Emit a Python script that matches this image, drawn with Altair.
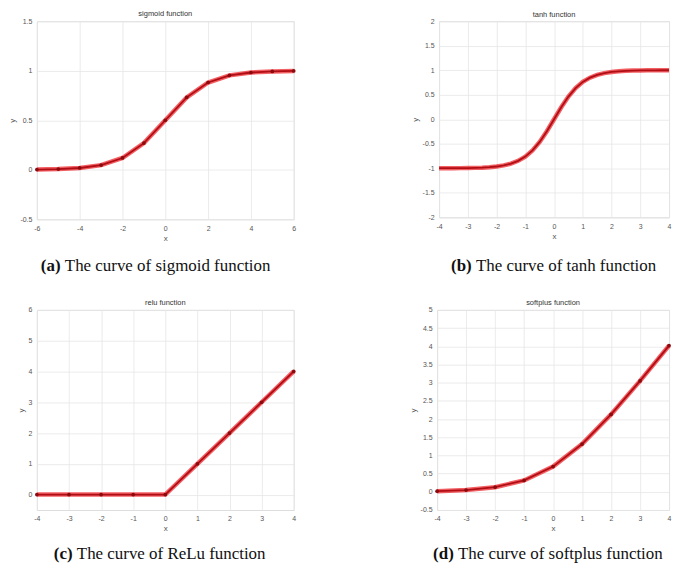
import altair as alt
import pandas as pd

# ---- data ----
sig_x = [-6, -5, -4, -3, -2, -1, 0, 1, 2, 3, 4, 5, 6]
sig_y = [0.0025, 0.0067, 0.018, 0.047, 0.119, 0.269, 0.5, 0.731, 0.881, 0.953, 0.982, 0.993, 0.9975]

tanh_x = [-4, -3.75, -3.5, -3.25, -3, -2.75, -2.5, -2.25, -2, -1.75, -1.5, -1.25, -1, -0.75, -0.5, -0.25,
          0, 0.25, 0.5, 0.75, 1, 1.25, 1.5, 1.75, 2, 2.25, 2.5, 2.75, 3, 3.25, 3.5, 3.75, 4]
tanh_y = [-0.999, -0.999, -0.998, -0.997, -0.995, -0.992, -0.987, -0.978, -0.964, -0.941, -0.905, -0.848,
          -0.762, -0.635, -0.462, -0.245, 0.0, 0.245, 0.462, 0.635, 0.762, 0.848, 0.905, 0.941, 0.964,
          0.978, 0.987, 0.992, 0.995, 0.997, 0.998, 0.999, 0.999]

relu_x = [-4, -3, -2, -1, 0, 1, 2, 3, 4]
relu_y = [0, 0, 0, 0, 0, 1, 2, 3, 4]

soft_x = [-4, -3, -2, -1, 0, 1, 2, 3, 4]
soft_y = [0.018, 0.049, 0.127, 0.313, 0.693, 1.313, 2.127, 3.049, 4.018]

titles = ["sigmoid function", "tanh function", "relu function", "softplus function"]
cap_bold = ["(a)", "(b)", "(c)", "(d)"]
cap_rest = ["The curve of sigmoid function", "The curve of tanh function",
            "The curve of ReLu function", "The curve of softplus function"]

sig_xticks = [-6, -4, -2, 0, 2, 4, 6]
sig_yticks = [-0.5, 0, 0.5, 1, 1.5]
tanh_xticks = [-4, -3, -2, -1, 0, 1, 2, 3, 4]
tanh_yticks = [-2, -1.5, -1, -0.5, 0, 0.5, 1, 1.5, 2]
relu_yticks = [0, 1, 2, 3, 4, 5, 6]
soft_yticks = [-0.5, 0, 0.5, 1, 1.5, 2, 2.5, 3, 3.5, 4, 4.5, 5]

LABEL_FONT = "Liberation Sans"
CAP_FONT = "Liberation Serif"
CAP_SIZE = 17
# width (in em) of the bold "(a) " prefix in the serif font, used to place the rest
bold_em = [1.416, 1.472, 1.36, 1.472]


def axis(title, values):
    return alt.Axis(values=values, title=title, labelExpr="toString(datum.value)",
                    labelFont=LABEL_FONT, labelFontSize=7, labelColor="#555555",
                    titleFont=LABEL_FONT, titleFontSize=8, titleFontWeight="normal",
                    titleColor="#555555", ticks=False, domain=False, grid=True,
                    gridColor="#e6e6e6", gridWidth=0.8, labelPadding=5, titlePadding=3,
                    labelFlush=False, labelOverlap=False)


def panel(xs, ys, idx, xdom, xticks, ydom, yticks, w, h, markers, cap_x, cap_dy, title_dy):
    df = pd.DataFrame({"x": xs, "y": ys})
    X = alt.X("x:Q", scale=alt.Scale(domain=xdom, nice=False, zero=False), axis=axis("x", xticks))
    Y = alt.Y("y:Q", scale=alt.Scale(domain=ydom, nice=False, zero=False), axis=axis("y", yticks))
    base = alt.Chart(df)
    layers = [
        base.mark_line(color="#ee2a2f", strokeWidth=4.5, opacity=0.75).encode(x=X, y=Y),
        base.mark_line(color="#b00d14", strokeWidth=1.8).encode(x=X, y=Y),
    ]
    if markers:
        layers.append(base.mark_point(filled=True, color="#8a0a0e", size=14, opacity=1).encode(x=X, y=Y))
    cdf = pd.DataFrame({"b": [cap_bold[idx]], "r": [cap_rest[idx]], "t": [titles[idx]]})
    cap = alt.Chart(cdf)
    layers.append(cap.mark_text(align="center", baseline="middle", font=LABEL_FONT, fontSize=7.5,
                                color="#333333")
                  .encode(text="t:N", x=alt.value(w / 2), y=alt.value(title_dy)))
    layers.append(cap.mark_text(align="left", baseline="middle", font=CAP_FONT, fontSize=CAP_SIZE,
                                fontWeight="bold", color="#111111")
                  .encode(text="b:N", x=alt.value(cap_x), y=alt.value(h + cap_dy)))
    layers.append(cap.mark_text(align="left", baseline="middle", font=CAP_FONT, fontSize=CAP_SIZE,
                                color="#111111")
                  .encode(text="r:N", x=alt.value(cap_x + bold_em[idx] * CAP_SIZE),
                          y=alt.value(h + cap_dy)))
    return alt.layer(*layers).properties(width=w, height=h)


pa = panel(sig_x, sig_y, 0, [-6, 6], sig_xticks, [-0.5, 1.5], sig_yticks, 258, 199, True, 4, 47, -7)
pb = panel(tanh_x, tanh_y, 1, [-4, 4], tanh_xticks, [-2, 2], tanh_yticks, 231, 197, False, 12, 49, -6)
pc = panel(relu_x, relu_y, 2, [-4, 4], tanh_xticks, [-0.5, 6], relu_yticks, 258, 201, True, 17, 44, -7)
pd_ = panel(soft_x, soft_y, 3, [-4, 4], tanh_xticks, [-0.5, 5], soft_yticks, 233, 201, True, -4, 44, -7)

chart = alt.vconcat(
    alt.hconcat(pa, pb, spacing=107),
    alt.hconcat(pc, pd_, spacing=105),
    spacing=23,
).properties(padding=0).configure_view(stroke="#c8c8c8", strokeWidth=1).configure(
    background="white")

chart.save("out.html", embed_options={"renderer": "svg", "actions": False})
